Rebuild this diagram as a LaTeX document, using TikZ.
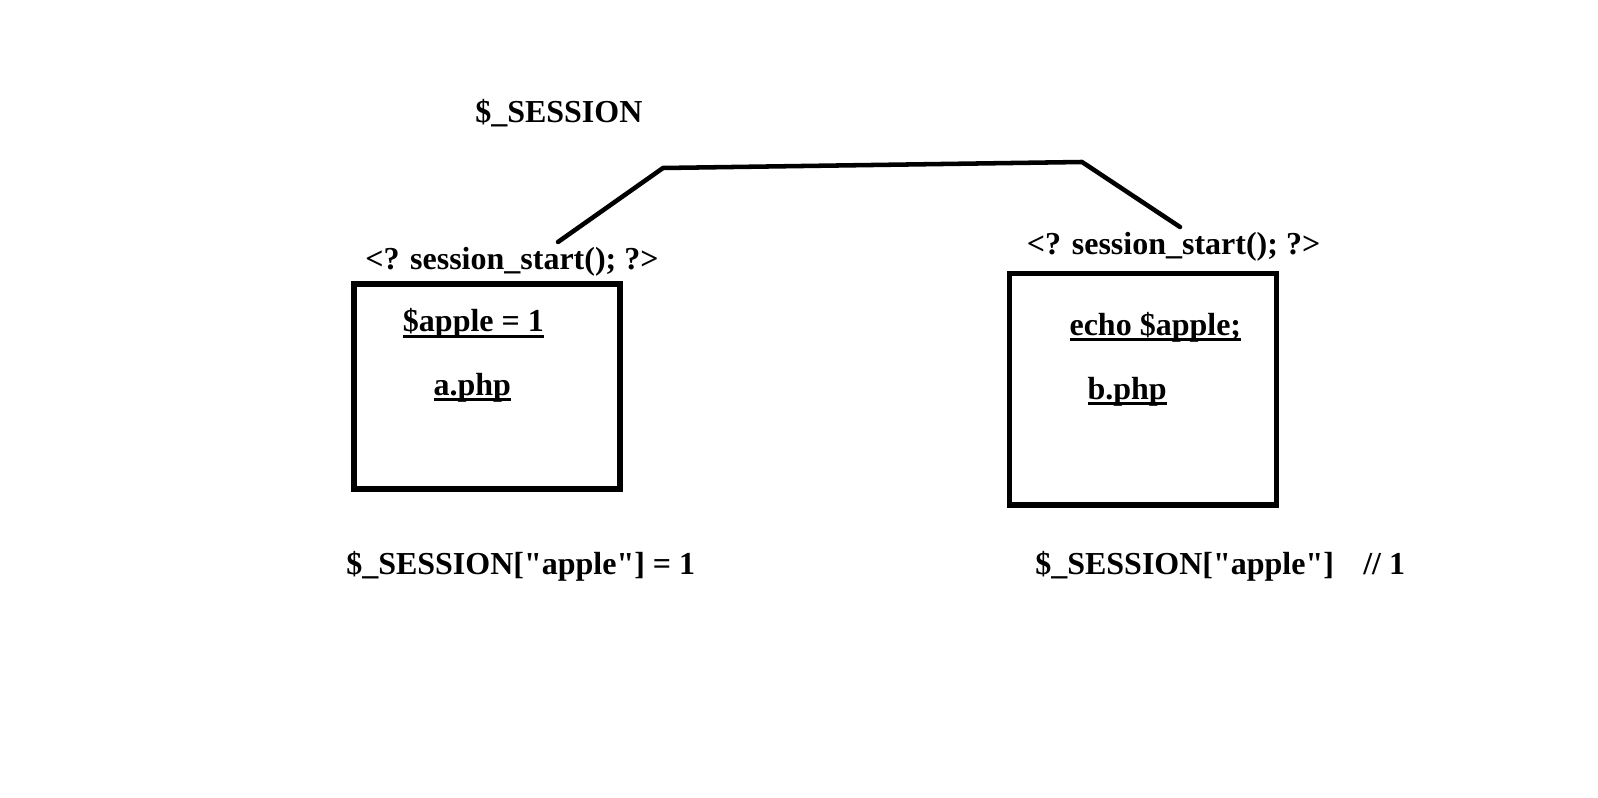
\documentclass[tikz,border=0pt]{standalone}
\usepackage{fontspec}
\newfontfamily\tnr{Liberation Serif}
\newcommand\myul[1]{\setbox0\hbox{#1}\rlap{\rule[-4.5pt]{\wd0}{2.25pt}}\box0}
\begin{document}
\begin{tikzpicture}[x=0.75pt,y=-0.75pt,
  lbl/.style={anchor=base west, inner sep=0pt, font=\tnr\fontsize{24pt}{28pt}\selectfont\bfseries},
  boxn/.style={draw, line width=3.8pt, inner sep=0pt},
  link/.style={line width=3.4pt, line cap=round, line join=round}]
\useasboundingbox[fill=white] (0,0) rectangle (1598,798);
% boxes
\node[boxn, minimum width=199.5pt, minimum height=153.75pt] (boxa) at (487,386.5) {};
\node[boxn, minimum width=200pt, minimum height=173.6pt] (boxb) at (1143,389.25) {};
% labels
\node[lbl] (sess) at (475,122.7) {\$\_SESSION};
\node[lbl] (ssa) at (365,269.3) {<? session\_start(); ?>};
\node[lbl] (appa) at (402.7,331.7) {\myul{\$apple = 1}};
\node[lbl] (aphp) at (433.3,395) {\myul{a.php}};
\node[lbl] (ssb) at (1026.7,254.3) {<? session\_start(); ?>};
\node[lbl] (echo) at (1069.3,335) {\myul{echo \$apple;}};
\node[lbl] (bphp) at (1087.3,399.3) {\myul{b.php}};
\node[lbl] (bota) at (346,574.3) {\$\_SESSION["apple"] = 1};
\node[lbl] (botb) at (1035,574.3) {\$\_SESSION["apple"]\hspace{22pt}// 1};
% connector
\coordinate (c1) at (558,242);
\coordinate (c2) at (663,168);
\coordinate (c3) at (1082,162);
\coordinate (c4) at (1180,227);
\draw[link] (c1) -- (c2) -- (c3) -- (c4);
\end{tikzpicture}
\end{document}
